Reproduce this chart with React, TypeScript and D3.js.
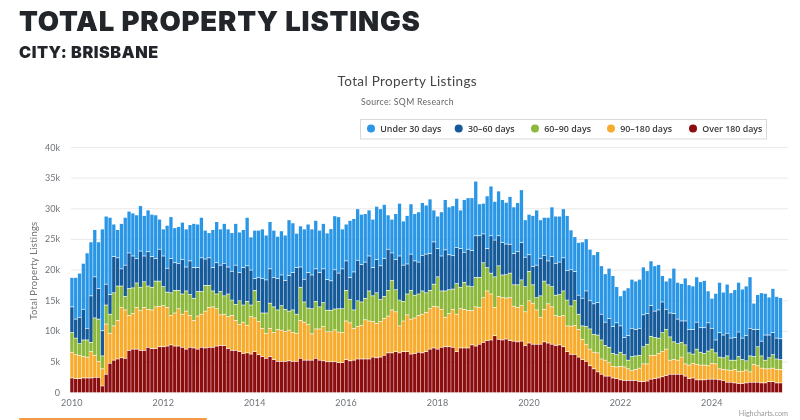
import React from "react";
import * as d3 from "d3";

const seriesNames = ["Over 180 days", "90-180 days", "60-90 days", "30-60 days", "Under 30 days"];
const legendOrder = ["Under 30 days", "30-60 days", "60-90 days", "90-180 days", "Over 180 days"];
const colors: Record<string, string> = {
  "Under 30 days": "#2a96e6",
  "30-60 days": "#125a9a",
  "60-90 days": "#8cb83a",
  "90-180 days": "#f8ac2f",
  "Over 180 days": "#8b0a0f",
};
const yTicks = [0, 5, 10, 15, 20, 25, 30, 35, 40];
const xTickYears = [2010, 2012, 2014, 2016, 2018, 2020, 2022, 2024];

// thousands of listings, one value per month from January 2010
const over180 = [
  2.4,2.3,2.3,2.4,2.4,2.4,2.5,2.5,1.1,3,4.8,5.3,5.5,5.7,5.6,6.9,7.1,7.1,6.9,6.9,7.4,7.2,7.2,7.5,
  7.5,7.6,7.8,7.6,7.6,7.4,7.1,7.4,7.3,7.1,7.4,7.3,7.4,7.4,7.6,7.7,7.7,7.2,6.9,6.9,6.7,6.4,6.5,6.3,
  6.7,6.2,5.9,5.6,5.9,5.4,5.1,5.1,5.1,5.2,5.1,5.1,5.6,5.3,5.3,5.3,5.6,5.3,5.2,5.05,5.05,5.05,4.9,4.9,
  5.4,5.2,5.3,5.5,5.5,5.5,5.5,5.8,5.7,5.8,6.1,6.5,6.5,6.7,6.5,6.7,6.7,6.3,6.4,6.6,6.5,6.7,7.1,7.3,
  7.1,7.4,7.5,7.5,7.4,6.7,7.3,7.3,7.3,7.8,7.6,7.9,8.2,8.5,8.6,9.3,8.7,8.6,8.75,8.5,8.4,8.3,8.4,7.7,
  8.1,7.9,7.9,7.9,8.3,8.1,7.9,7.7,7.8,7.5,6.7,6.25,6.25,5.8,5.4,5.1,4.4,3.9,3.4,3,2.7,2.7,2.4,2.3,
  2.1,2,2,2,2,1.8,1.8,1.9,2.2,2.3,2.4,2.6,2.8,3,3,3,3,2.7,2.3,2.4,2.1,2.1,2.1,2.2,
  2.2,2.2,2.1,2,1.7,1.7,1.6,1.5,1.5,1.6,1.7,1.7,1.7,1.6,1.6,1.8,1.8,1.6,1.6,
];
const days90to180 = [
  4.2,3.9,3.8,3.5,3.4,4.3,3.6,2.6,2.8,8.2,4.9,5.6,6.3,8.2,7.9,5.7,5.8,6.8,6.5,7,6.2,6.3,6.8,6.6,
  6.7,6.3,4.8,5.4,6.1,5.4,6.2,5.2,4.5,5.4,5.4,6,6.5,6.6,6.1,5,5.1,5.2,5.7,4.9,4.4,5.1,4.5,6.1,
  5.5,5.4,4.6,4.1,4.6,4.4,5.2,5.1,4.9,5,4.7,4.6,6.2,6.2,5.8,4.3,4.8,5.1,5.6,4.9,4.9,5.2,5,4.9,
  6.3,6.2,5.2,5.3,5.5,6.4,6.2,5.8,5.6,5.8,6,6,7,6.5,4.4,5,6,5.7,5.8,6,6.3,6.4,6.6,6.8,
  6.9,6.2,4.8,5.4,6.2,6.1,6.4,6.3,6.1,5.6,6.4,6,7.3,8.1,7.5,4.6,7,6.9,6.7,7,5.7,5.6,5.8,5.5,
  6.9,6.7,5.6,4.4,5.3,6.4,6.1,4.9,4.6,5.1,4.2,4.6,4.7,4.5,3.3,2.8,2.7,2.7,3.1,2.5,2.6,2.2,1.9,1.9,
  2.2,2.2,1.9,1.6,1.8,2.2,2.9,2.8,3.9,3.8,4,4.1,4.3,2.3,2.4,2.3,2.8,2,2.2,2.4,2.5,2.4,2.4,2.2,
  2.6,2.5,1.8,1.8,2,1.9,2.2,2,2,2.1,1.7,2.9,2.7,2.4,2.3,2.1,2.2,2.2,2.2,
];
const days60to90 = [
  3.2,2.7,1.9,2.7,2.8,1.5,6.1,6.9,2.1,3.1,3.1,5.4,5.6,3.5,2.2,4.4,4.2,4,3.8,4.2,3.8,3.7,4.2,4.1,
  3.1,2.5,3.7,3.7,3,3.3,3.3,3.4,3.6,4,3.7,4.2,3.6,2.6,2.4,3.8,3,3.7,2.5,2.6,3.9,2.8,3.9,1.9,
  4.5,3.3,2.5,3.3,4.1,4.2,3.2,4,3.6,3.1,3.7,3.1,5.4,3.3,2.7,4.1,4.5,3.6,3.9,3.5,3.5,3.4,3.8,3.9,
  5,3.8,3,4.2,3.8,3.5,4.9,4.2,5,3.6,3.6,4.2,4.8,3.6,4.2,3.2,3.4,4.7,3.7,3.5,3.8,3.2,3,3.6,
  4.9,3,4.3,3.9,3.3,5,3.5,4.4,4,3.9,4.8,4.9,5.7,3.8,3.4,5,5,3.7,3.8,4,3.5,3.7,4.2,4.1,
  4.8,3,2,3.5,4.6,3.1,3.3,3.3,3.6,4,4.2,3.3,4.1,2.5,2.2,2.9,3.3,2.9,2.9,3.1,2.4,2.5,2.1,2,
  2.3,2,1.4,2.3,2.2,2.1,2.8,3.2,3.1,2.9,2.5,3.1,3.2,3.8,2.9,2.7,2.4,3.1,2,1.5,2.5,2.1,1.9,2.4,
  2.3,1.8,1.9,1.9,2.3,1.7,1.5,2.4,1.9,1.5,2.6,1.3,3.1,2,1.4,1.8,2.2,1.7,1.6,
];
const days30to60 = [
  4.2,3.1,4.3,5,1.9,7.6,6.7,5,4.1,3.4,3.2,5.9,4.6,2.8,5.1,5.8,5.2,4,5.9,4.2,5.6,5,3.7,5.2,
  5,3.9,5.6,4.5,4.4,5.6,3.9,5.5,5,3.9,5.5,4.3,4.5,3.8,5.1,4.3,5.3,4.4,4.7,6.4,4.6,6.1,5.8,5.7,
  1.9,3.9,5.6,5.4,5.6,4.8,5.1,5,4.7,5.8,6.1,7.6,3.3,3.7,5.8,5.5,5.3,5.6,5.5,5,4.8,6.4,5.8,6.5,
  4.8,3.6,6.2,6.6,6.1,5.9,5.7,4.6,5.4,5.5,6.2,6.7,4.5,4.9,7.2,5.9,4.9,5.9,5.6,5.2,5.8,6.3,6,6.9,
  4.6,5.7,6.7,5.7,5.5,5.9,6.3,4.9,6,5.9,6.8,6.8,4.7,3.1,6.1,6,4.9,5.3,5,4.7,5.1,5.4,6.1,4.8,
  2.7,3,5.3,6.1,4.2,3.9,4.9,5.2,5.3,5.4,4.8,5.9,4.7,3.1,4.5,5.8,4.6,5,5.3,4.2,3.8,4.7,4.4,5.2,
  4.3,2.8,4,4.6,4.3,4.4,5.2,5,5,4.3,4.6,5,3.3,3.9,4.6,4,3.5,3.9,3.8,4,4.4,4,4.2,4.6,
  3.4,2.1,4,3.7,3.7,3.6,3.7,4,3.5,4.1,4.5,4.4,2.8,2.4,4.1,3.7,3.6,3.4,3.4,
];
const under30 = [
  4.8,6.8,7.2,7.5,12.3,8.8,7.7,7.6,16.6,11.1,12.6,5.3,4.6,7.4,7.8,6.8,7,7.1,7.4,6.6,6.8,6.9,7.1,4.9,
  4.4,7,6.8,5.7,6,6.1,6.2,5.9,7.2,7.1,6.6,4.7,4.1,6.2,6.7,5.9,6.5,6.2,6.3,6.8,6.6,6.2,7.9,5.4,
  7.9,7.7,8.1,7.3,7.7,7.7,6.9,7.2,7.4,9.1,8.1,5.6,6.7,8.2,7.9,7.5,7.9,6.9,7.4,7.6,8.5,8.8,9.2,6.5,
  6,9.3,8.7,8.4,8.2,7.9,7.5,7.9,8.7,9.3,8.8,5.6,5.5,7.5,8.6,7.2,7.9,8.2,7.7,8.2,8.6,8,8.9,5.2,
  5.3,7.2,8.2,7.8,8.1,8,6.3,8.6,8.4,8.6,8.9,5.2,5,8.6,8.1,6.3,7.3,7,6.8,7.8,7.6,8,8.6,6.1,
  6.6,8.3,9,6.3,6.2,7.1,8.1,7.7,7.5,8,9,6.5,5.7,8.6,9.2,8.5,8.4,8,8.3,7.9,7.9,8.2,8.3,5.9,
  4.9,7.7,7.8,8,7.9,8,7.8,7,7.3,7.4,7.4,4.3,4.6,5.7,7.4,6,6.1,7,7.3,7.1,7.4,7.5,7.7,5.2,
  4.9,7.6,8.2,7,8,7.4,7.8,8.1,8,8.1,8.4,4.3,5.7,7.9,6.8,6.2,7.2,6.8,6.7,
];

const seriesValues = [over180, days90to180, days60to90, days30to60, under30];
const months = d3.range(under30.length);
const rows = months.map((m) => {
  const row: Record<string, number> = { month: m };
  seriesNames.forEach((name, s) => { row[name] = seriesValues[s][m] ?? 0; });
  return row;
});

const WIDTH = 800;
const HEIGHT = 420;
const FONT = "Lato, 'Open Sans', sans-serif";
const LEGEND_FONT = "'Open Sans', sans-serif";
const axisGrey = "#6f7378";

const x = d3.scaleLinear().domain([2010, 2010 + 186 / 12]).range([71.9, 780.5]);
const y = d3.scaleLinear().domain([0, 40]).range([392.7, 147.5]);
const stack = d3.stack<Record<string, number>>().keys(seriesNames)(rows);
const barWidth = 3.3;

const legendX = [371, 458.7, 535, 611, 693];

export default function App() {
  return (
    <svg
      width={WIDTH}
      height={HEIGHT}
      viewBox={`0 0 ${WIDTH} ${HEIGHT}`}
      style={{ position: "fixed", left: 0, top: 0, display: "block", background: "#fff" }}
    >
      <defs>
        <filter id="soft" x="0" y="0" width="100%" height="100%">
          <feGaussianBlur stdDeviation="0.35" />
        </filter>
      </defs>
      <g filter="url(#soft)">
        <text x={19} y={30.7} fontFamily="Inter, 'Open Sans', sans-serif" fontWeight={900} fontSize={27.5} letterSpacing={0.8} fill="#212529">
          TOTAL PROPERTY LISTINGS
        </text>
        <text x={19} y={58.3} fontFamily="Inter, 'Open Sans', sans-serif" fontWeight={900} fontSize={16.2} letterSpacing={0.55} fill="#212529">
          CITY: BRISBANE
        </text>
        <text x={407.3} y={85.5} textAnchor="middle" fontFamily={FONT} fontSize={13.5} letterSpacing={0.35} fill="#444">
          Total Property Listings
        </text>
        <text x={407.4} y={105} textAnchor="middle" fontFamily={FONT} fontSize={8.7} letterSpacing={0.3} fill="#666">
          Source: SQM Research
        </text>

        <rect x={360.5} y={119.5} width={406} height={19.5} fill="#fff" stroke="#d9d9d9" />
        {legendOrder.map((name, i) => (
          <g key={name}>
            <circle cx={legendX[i]} cy={128.6} r={4} fill={colors[name]} />
            <text x={legendX[i] + 9.2} y={131.8} fontFamily={LEGEND_FONT} fontWeight={600} fontSize={8.9} fill="#3a3a3a">
              {name.replace("-", "–")}
            </text>
          </g>
        ))}

        {yTicks.map((t) => (
          <g key={t}>
            {t > 0 && <line x1={71} x2={788} y1={y(t)} y2={y(t)} stroke="#e9e9e9" />}
            <text x={60} y={y(t) + 3} textAnchor="end" fontFamily={FONT} fontSize={9} fill={axisGrey}>
              {t === 0 ? "0" : `${t}k`}
            </text>
          </g>
        ))}
        <text
          transform={`translate(37,${y(20) + 0.5}) rotate(-90)`}
          textAnchor="middle"
          fontFamily={FONT}
          fontSize={9.5}
          letterSpacing={0.25}
          fill={axisGrey}
        >
          Total Property Listings
        </text>

        {stack.map((layer) => (
          <g key={layer.key} fill={colors[layer.key]}>
            {layer.map((d, i) => (
              <rect
                key={i}
                x={x(2010 + i / 12) - barWidth / 2}
                y={y(d[1]) + 0.35}
                width={barWidth}
                height={Math.max(0, y(d[0]) - y(d[1]) - 0.7)}
              />
            ))}
          </g>
        ))}

        {xTickYears.map((yr) => (
          <text key={yr} x={x(yr)} y={406} textAnchor="middle" fontFamily={FONT} fontSize={9} letterSpacing={0.2} fill={axisGrey}>
            {yr}
          </text>
        ))}

        <text x={788} y={416} textAnchor="end" fontFamily={FONT} fontSize={7.2} fill="#999">
          Highcharts.com
        </text>
        <rect x={19} y={418} width={188} height={2} rx={1} fill="#f29a4a" />
      </g>
    </svg>
  );
}
